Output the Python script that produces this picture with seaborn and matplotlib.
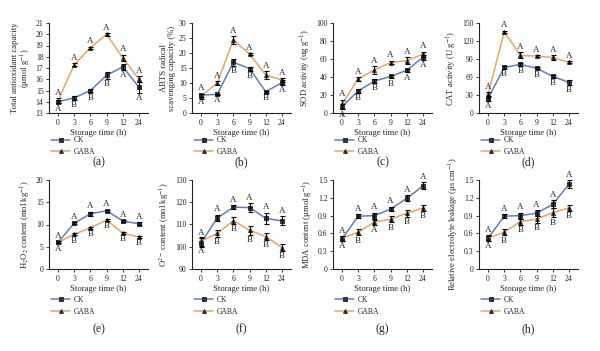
import matplotlib
matplotlib.use("Agg")
import matplotlib.pyplot as plt
import pandas as pd
import seaborn as sns

sns.set_theme(style="ticks")
plt.rcParams['font.family'] = ['Liberation Serif', 'DejaVu Serif']
plt.rcParams['mathtext.fontset'] = 'stix'

times = ["0", "3", "6", "9", "12", "24"]
groups = ["CK", "GABA"]

# (a) total antioxidant capacity
tac_ck = [14.0, 14.35, 15.0, 16.35, 17.1, 15.3]
tac_gaba = [14.1, 17.3, 18.8, 20.0, 17.9, 16.0]
tac_ck_err = [0.15, 0.15, 0.15, 0.3, 0.25, 0.5]
tac_gaba_err = [0.2, 0.1, 0.08, 0.12, 0.3, 0.25]
tac_ck_let = ["A", "B", "B", "B", "A", "A"]
tac_gaba_let = ["A", "A", "A", "A", "A", "A"]

# (b) ABTS
abts_ck = [6.0, 6.2, 16.9, 14.8, 7.1, 10.1]
abts_gaba = [5.6, 10.0, 24.4, 19.6, 12.7, 11.0]
abts_ck_err = [0.5, 0.2, 1.2, 0.7, 0.3, 0.8]
abts_gaba_err = [0.8, 0.6, 1.3, 0.4, 1.3, 0.6]
abts_ck_let = ["A", "A", "B", "B", "B", "A"]
abts_gaba_let = ["A", "A", "A", "A", "A", "A"]

# (c) SOD
sod_ck = [7.0, 24.6, 35.4, 40.7, 47.4, 62.0]
sod_gaba = [10.0, 38.0, 47.8, 56.0, 58.2, 65.3]
sod_ck_err = [3, 2, 2, 2, 2, 3]
sod_gaba_err = [5, 2, 4, 2, 4, 3]
sod_ck_let = ["A", "B", "B", "B", "A", "A"]
sod_gaba_let = ["A", "A", "A", "A", "A", "A"]

# (d) CAT
cat_ck = [24, 76, 81, 74.6, 61, 51]
cat_gaba = [31, 135.3, 96, 94.8, 92.5, 84.6]
cat_ck_err = [4, 2, 2, 2, 2, 4]
cat_gaba_err = [4, 2, 5, 2, 4, 2]
cat_ck_let = ["A", "B", "B", "B", "B", "B"]
cat_gaba_let = ["A", "A", "A", "A", "A", "A"]

# (e) H2O2
h2o2_ck = [6.0, 10.3, 12.4, 13.1, 10.8, 10.15]
h2o2_gaba = [6.0, 7.8, 9.25, 11.0, 8.05, 7.2]
h2o2_ck_err = [0.2, 0.2, 0.5, 0.2, 0.2, 0.3]
h2o2_gaba_err = [0.2, 0.2, 0.2, 0.2, 0.2, 0.2]
h2o2_ck_let = ["A", "A", "A", "A", "A", "A"]
h2o2_gaba_let = ["A", "B", "B", "B", "B", "B"]

# (f) O2-
o2_ck = [101.8, 112.9, 117.8, 117.6, 112.8, 111.6]
o2_gaba = [102.5, 106.0, 111.7, 107.4, 104.6, 99.6]
o2_ck_err = [2, 1.5, 1, 2, 2.5, 2]
o2_gaba_err = [2, 1.5, 1.5, 2, 1.5, 1.5]
o2_ck_let = ["A", "A", "A", "A", "A", "A"]
o2_gaba_let = ["A", "B", "B", "B", "B", "B"]

# (g) MDA
mda_ck = [0.51, 0.89, 0.90, 1.01, 1.19, 1.40]
mda_gaba = [0.52, 0.62, 0.79, 0.84, 0.94, 1.03]
mda_ck_err = [0.04, 0.03, 0.05, 0.04, 0.05, 0.06]
mda_gaba_err = [0.04, 0.05, 0.04, 0.05, 0.06, 0.05]
mda_ck_let = ["A", "A", "A", "A", "A", "A"]
mda_gaba_let = ["A", "B", "A", "B", "B", "B"]

# (h) electrolyte leakage
rel_ck = [0.52, 0.89, 0.90, 0.94, 1.09, 1.43]
rel_gaba = [0.52, 0.62, 0.80, 0.84, 0.95, 1.03]
rel_ck_err = [0.05, 0.03, 0.05, 0.05, 0.07, 0.07]
rel_gaba_err = [0.04, 0.05, 0.05, 0.06, 0.08, 0.05]
rel_ck_let = ["A", "A", "A", "A", "A", "A"]
rel_gaba_let = ["A", "B", "B", "B", "B", "B"]

panels = [
    ("(a)", "Total antioxidant capacity\n(μmol g$^{-1}$)", tac_ck, tac_gaba, tac_ck_err, tac_gaba_err,
     tac_ck_let, tac_gaba_let, (13, 21), list(range(13, 22)), None, "GABA"),
    ("(b)", "ABTS radical\nscavenging capacity (%)", abts_ck, abts_gaba, abts_ck_err, abts_gaba_err,
     abts_ck_let, abts_gaba_let, (0, 30), list(range(0, 31, 5)), None, "GABA"),
    ("(c)", "SOD activity (ug g$^{-1}$)", sod_ck, sod_gaba, sod_ck_err, sod_gaba_err,
     sod_ck_let, sod_gaba_let, (0, 100), list(range(0, 101, 20)), None, "GABA"),
    ("(d)", "CAT activity (U g$^{-1}$)", cat_ck, cat_gaba, cat_ck_err, cat_gaba_err,
     cat_ck_let, cat_gaba_let, (0, 150), list(range(0, 151, 30)), None, "GABA"),
    ("(e)", "H$_2$O$_2$ content (mol kg$^{-1}$)", h2o2_ck, h2o2_gaba, h2o2_ck_err, h2o2_gaba_err,
     h2o2_ck_let, h2o2_gaba_let, (0, 20), list(range(0, 21, 5)), None, "CK"),
    ("(f)", "O$^{2-}$ content (mol kg$^{-1}$)", o2_ck, o2_gaba, o2_ck_err, o2_gaba_err,
     o2_ck_let, o2_gaba_let, (90, 130), list(range(90, 131, 10)), None, "CK"),
    ("(g)", "MDA content (μmol g$^{-1}$)", mda_ck, mda_gaba, mda_ck_err, mda_gaba_err,
     mda_ck_let, mda_gaba_let, (0, 1.5), [0, 0.3, 0.6, 0.9, 1.2, 1.5],
     ["0", "0.3", "0.6", "0.9", "1.2", "1.5"], "CK"),
    ("(h)", "Relative electrolyte leakage (μs cm$^{-1}$)", rel_ck, rel_gaba, rel_ck_err, rel_gaba_err,
     rel_ck_let, rel_gaba_let, (0, 1.5), [0, 0.3, 0.6, 0.9, 1.2, 1.5],
     ["0", "0.3", "0.6", "0.9", "1.2", "1.5"], "CK"),
]

palette = {"CK": "#5b7fc6", "GABA": "#f3a25a"}
markers = {"CK": "s", "GABA": "^"}

lefts = [49, 192, 333, 479]
W, H = 600.0, 351.0

fig = plt.figure(figsize=(6, 3.51), dpi=100)

for i, p in enumerate(panels):
    tag, ylab, ck, gaba, ck_err, gaba_err, ck_let, gaba_let, ylim, yticks, ytl, upper = p
    row, col = divmod(i, 4)
    if row == 0:
        top, bot, tag_y = 23, 113, 162
    else:
        top, bot, tag_y = 180, 269, 329
    ax = fig.add_axes([lefts[col] / W, 1 - bot / H, 99 / W, (bot - top) / H])

    df = pd.DataFrame({
        "pos": list(range(6)) * 2,
        "val": ck + gaba,
        "err": ck_err + gaba_err,
        "let": ck_let + gaba_let,
        "group": ["CK"] * 6 + ["GABA"] * 6,
    })
    sns.lineplot(data=df, x="pos", y="val", hue="group", style="group", markers=markers,
                 dashes=False, palette=palette, linewidth=1.1, markersize=2.8,
                 markeredgecolor="#333333", ax=ax)
    for line in ax.get_lines():
        line.set_markerfacecolor("#333333")
    for g in groups:
        d = df[df["group"] == g]
        ax.errorbar(d["pos"], d["val"], yerr=d["err"], fmt="none", ecolor="black",
                    elinewidth=0.8, capsize=1.8, capthick=0.8, zorder=5)
        for _, r in d.iterrows():
            if g == upper:
                ax.annotate(r["let"], (r["pos"], r["val"] + r["err"]), xytext=(0, 1),
                            textcoords="offset points", ha="center", va="bottom", fontsize=6.5)
            else:
                ax.annotate(r["let"], (r["pos"], r["val"] - r["err"]), xytext=(0, -1),
                            textcoords="offset points", ha="center", va="top", fontsize=6.5)

    ax.set_xlim(-0.56, 5.56)
    ax.set_ylim(*ylim)
    ax.set_xticks(range(6))
    ax.set_xticklabels(times)
    ax.set_yticks(yticks)
    if ytl is not None:
        ax.set_yticklabels(ytl)
    ax.tick_params(labelsize=5.5, length=2.5, width=0.6, pad=1.5, colors="#222222")
    for s in ["left", "bottom"]:
        ax.spines[s].set_linewidth(0.8)
        ax.spines[s].set_color("#222222")
    sns.despine(ax=ax)
    ax.set_xlabel("Storage time (h)", fontsize=6.2, labelpad=1.5)
    ax.set_ylabel(ylab, fontsize=6.2, labelpad=2, linespacing=1.0)

    handles, labels = ax.get_legend_handles_labels()
    leg_y = -0.2 if row == 0 else -0.24
    ax.legend(handles, labels, loc="upper left", bbox_to_anchor=(-0.03, leg_y), frameon=False,
              fontsize=5.5, handlelength=2.4, handletextpad=0.5, labelspacing=0.5,
              borderpad=0.2)

    fig.text((lefts[col] + 49.5) / W, 1 - tag_y / H, tag, ha="center", va="center",
             fontsize=8.5)

fig.savefig("out.png", dpi=100)
